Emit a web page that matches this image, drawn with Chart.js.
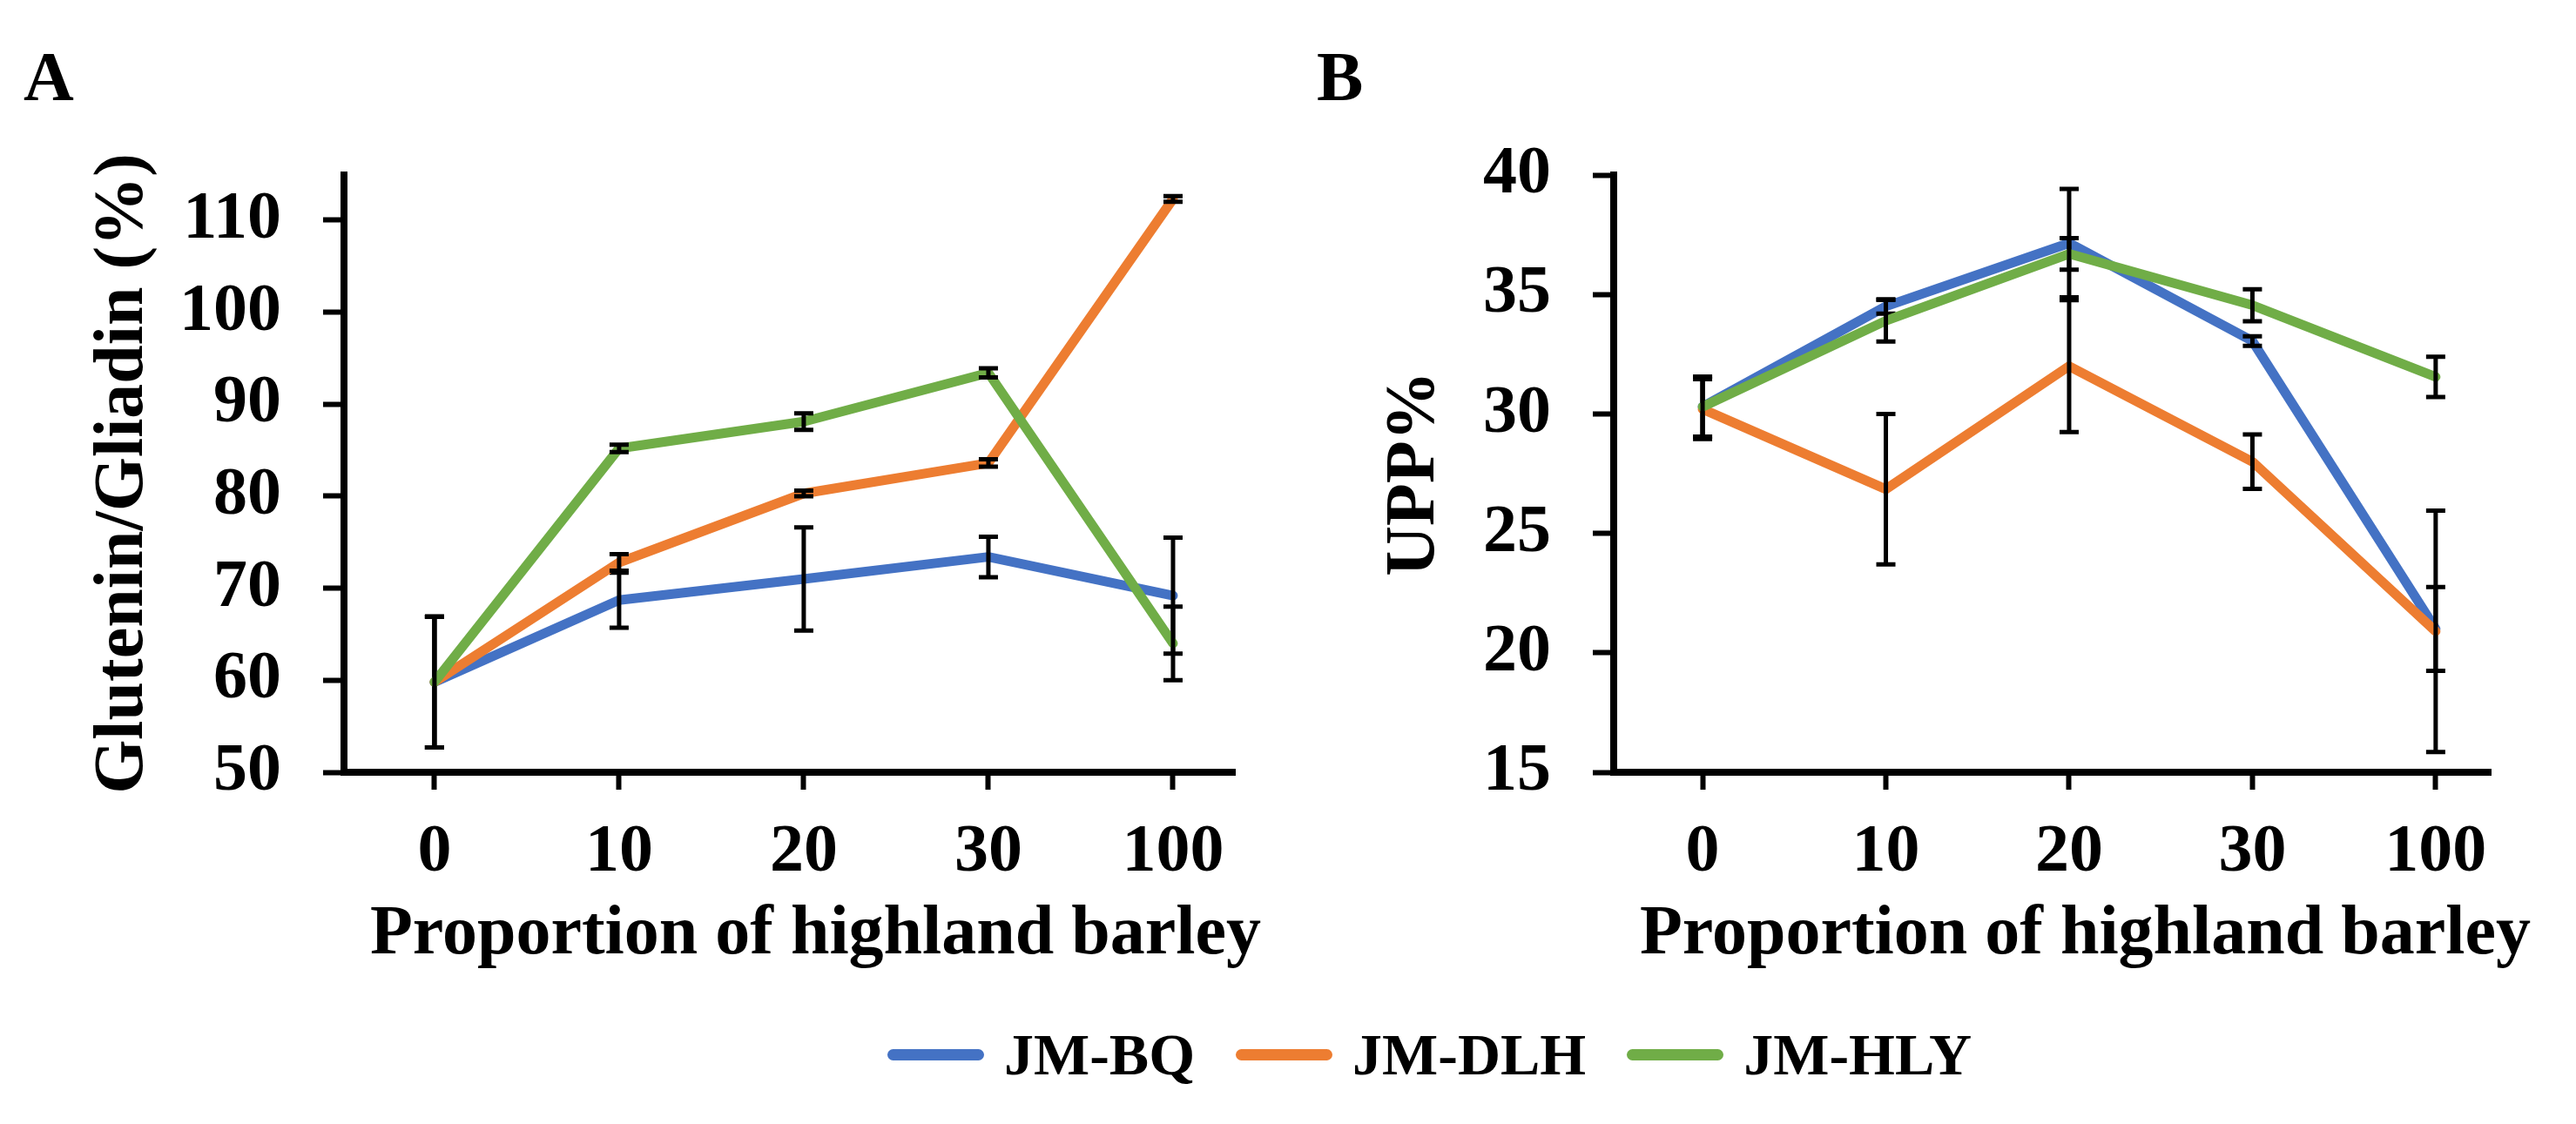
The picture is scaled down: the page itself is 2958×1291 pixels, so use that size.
<!DOCTYPE html>
<html>
<head>
<meta charset="utf-8">
<script src="https://cdn.jsdelivr.net/npm/chart.js@4.4.1/dist/chart.umd.min.js"></script>
<style>
  body { margin: 0; background: #fff; }
  #wrap { position: relative; width: 2958px; height: 1291px; font-family: "Liberation Serif", "Times New Roman", serif; font-weight: bold; color: #000; }
  canvas { position: absolute; top: 0; }
  .panel { position: absolute; top: 48px; font-size: 80px; line-height: 80px; }
  #legend { position: absolute; left: 1019px; top: 1171px; height: 80px; display: flex; align-items: center; font-size: 68px; line-height: 80px; }
  .item { display: flex; align-items: center; margin-right: 47px; }
  .swatch { width: 111px; height: 13px; border-radius: 7px; margin-right: 23px; }
</style>
</head>
<body>
<div id="wrap">
  <div class="panel" style="left:27px">A</div>
  <div class="panel" style="left:1512px">B</div>
  <canvas id="chartA" width="1480" height="1150" style="left:0"></canvas>
  <canvas id="chartB" width="1478" height="1150" style="left:1480px"></canvas>
  <div id="legend"></div>
</div>
<script>
const categories = ["0", "10", "20", "30", "100"];
const seriesNames = ["JM-BQ", "JM-DLH", "JM-HLY"];
const seriesColors = ["#4472C4", "#ED7D31", "#70AD47"];
const xTitle = "Proportion of highland barley";

// A: Glutenin/Gliadin (%)
const ratioBQ = [59.8, 68.7, 71.0, 73.4, 69.2];
const ratioDLH = [59.8, 72.8, 80.3, 83.6, 112.3];
const ratioHLY = [59.8, 85.2, 88.1, 93.4, 64.0];
const ratioErrBQ = [7.1, 3.0, 5.6, 2.2, 6.3];
const ratioErrDLH = [7.1, 0.9, 0.3, 0.4, 0.3];
const ratioErrHLY = [7.1, 0.4, 0.9, 0.5, 4.0];
const ratioTicks = [50, 60, 70, 80, 90, 100, 110];

// B: UPP%
const uppBQ = [30.3, 34.5, 37.15, 33.05, 21.0];
const uppDLH = [30.2, 26.85, 32.0, 28.0, 20.9];
const uppHLY = [30.3, 33.9, 36.7, 34.55, 31.55];
const uppErrBQ = [1.25, 0.3, 2.27, 0.2, 1.75];
const uppErrDLH = [1.25, 3.15, 2.76, 1.14, 5.05];
const uppErrHLY = [1.25, 0.87, 0.66, 0.67, 0.84];
const uppTicks = [15, 20, 25, 30, 35, 40];

const fontFamily = "'Liberation Serif', 'Times New Roman', serif";
const tickFont = { family: fontFamily, size: 78, weight: "bold" };
const titleFont = { family: fontFamily, size: 80, weight: "bold", lineHeight: 1.2 };

// error bars drawn after each line, so later series cover earlier bars
const errorBars = {
  id: "errorBars",
  afterDatasetDraw(chart, args) {
    const ds = chart.data.datasets[args.index];
    if (!ds.errors) return;
    const xs = chart.scales.x, ys = chart.scales.y;
    const ctx = chart.ctx;
    ctx.save();
    ctx.strokeStyle = "#000";
    ctx.lineWidth = 5;
    ds.data.forEach((p, i) => {
      const e = ds.errors[i];
      const px = xs.getPixelForValue(p.x);
      const top = ys.getPixelForValue(p.y + e);
      const bot = ys.getPixelForValue(p.y - e);
      ctx.beginPath();
      ctx.moveTo(px, top); ctx.lineTo(px, bot);
      ctx.moveTo(px - 11, top); ctx.lineTo(px + 11, top);
      ctx.moveTo(px - 11, bot); ctx.lineTo(px + 11, bot);
      ctx.stroke();
    });
    ctx.restore();
  }
};

// x title sits a little right of the plot centre in the original
const xTitlePlugin = {
  id: "xTitlePlugin",
  afterDraw(chart, args, opts) {
    const ctx = chart.ctx;
    const area = chart.chartArea;
    ctx.save();
    ctx.fillStyle = "#000";
    ctx.font = "bold 80px " + fontFamily;
    ctx.textAlign = "center";
    ctx.textBaseline = "middle";
    ctx.fillText(opts.text, (area.left + area.right) / 2 + opts.shift, opts.y);
    ctx.restore();
  }
};

function makePanel(id, yTitle, values, errors, yMin, yMax, yTicks, box) {
  const datasets = values.map((vals, k) => ({
    label: seriesNames[k],
    data: vals.map((v, i) => ({ x: i, y: v })),
    errors: errors[k],
    borderColor: seriesColors[k],
    backgroundColor: seriesColors[k],
    borderWidth: 11,
    borderJoinStyle: "round",
    borderCapStyle: "round",
    pointRadius: 0,
    tension: 0,
    order: 3 - k
  }));
  return new Chart(document.getElementById(id), {
    type: "line",
    data: { datasets: datasets },
    plugins: [errorBars, xTitlePlugin],
    options: {
      responsive: false,
      animation: false,
      devicePixelRatio: 1,
      layout: { padding: { left: 0, top: 201, right: box.right, bottom: 0 } },
      plugins: {
        legend: { display: false },
        tooltip: { enabled: false },
        xTitlePlugin: { text: xTitle, shift: box.titleShift, y: 1074 }
      },
      scales: {
        x: {
          type: "linear",
          min: box.xMin,
          max: box.xMax,
          afterBuildTicks: s => { s.ticks = categories.map((c, i) => ({ value: i })); },
          afterFit: s => { s.height = 263; },
          ticks: { callback: (v, i) => categories[i], color: "#000", font: tickFont, padding: 26, maxRotation: 0, autoSkip: false },
          grid: { display: true, drawOnChartArea: false, drawTicks: true, tickLength: 20, tickWidth: 6, tickColor: "#000" },
          border: { display: true, color: "#000", width: 8 }
        },
        y: {
          min: yMin,
          max: yMax,
          afterBuildTicks: s => { s.ticks = yTicks.map(v => ({ value: v })); },
          afterFit: s => { s.width = box.yWidth; },
          ticks: { color: "#000", font: tickFont, padding: 48 },
          grid: { display: true, drawOnChartArea: false, drawTicks: true, tickLength: 24, tickWidth: 6, tickColor: "#000" },
          border: { display: true, color: "#000", width: 8 },
          title: { display: true, text: yTitle, color: "#000", font: titleFont, padding: { top: box.titlePad, bottom: 0 } }
        }
      }
    }
  });
}

makePanel("chartA", "Glutenin/Gliadin (%)",
  [ratioBQ, ratioDLH, ratioHLY], [ratioErrBQ, ratioErrDLH, ratioErrHLY],
  50, 114.9, ratioTicks,
  { yWidth: 395, right: 62, titlePad: 94, titleShift: 30, xMin: -0.49, xMax: 4.335 });

makePanel("chartB", "UPP%",
  [uppBQ, uppDLH, uppHLY], [uppErrBQ, uppErrDLH, uppErrHLY],
  15, 40, uppTicks,
  { yWidth: 373, right: 98, titlePad: 97, titleShift: 38, xMin: -0.485, xMax: 4.30 });

// shared legend under both panels
const legend = document.getElementById("legend");
seriesNames.forEach((name, k) => {
  const item = document.createElement("div");
  item.className = "item";
  const sw = document.createElement("div");
  sw.className = "swatch";
  sw.style.background = seriesColors[k];
  const txt = document.createElement("span");
  txt.textContent = name;
  item.appendChild(sw);
  item.appendChild(txt);
  legend.appendChild(item);
});
</script>
</body>
</html>
